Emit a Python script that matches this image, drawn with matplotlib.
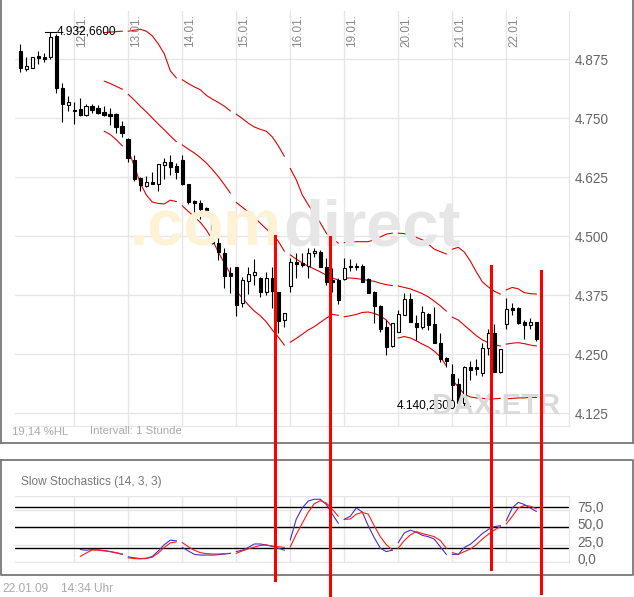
import numpy as np
import matplotlib
matplotlib.use("Agg")
import matplotlib.pyplot as plt
from matplotlib.lines import Line2D
from matplotlib.transforms import ScaledTranslation, blended_transform_factory

W, H = 634, 597
plt.rcParams['font.family'] = ['Liberation Sans', 'DejaVu Sans']

# hourly candles, DAX (ETR), 09.01. - 22.01.2009
day_labels = ["12.01.", "13.01.", "14.01.", "15.01.", "16.01.", "19.01.", "20.01.", "21.01.", "22.01."]
day_starts = [0, 9, 18, 27, 36, 45, 54, 63, 72, 81]

opens = [4892, 4854, 4857, 4881, 4879, 4879, 4924, 4813, 4777, 4764,
         4769, 4756, 4775, 4771, 4763, 4759, 4758, 4734, 4706, 4661,
         4623, 4607, 4615, 4611, 4651, 4656, 4649, 4661, 4610, 4574,
         4570, 4559, 4547, 4485, 4465, 4422, 4434, 4359, 4405, 4418,
         4412, 4382, 4412, 4381, 4322, 4395, 4446, 4442, 4437, 4464,
         4467, 4435, 4407, 4407, 4408, 4437, 4437, 4437, 4408, 4382,
         4352, 4307, 4267, 4297, 4333, 4367, 4316, 4307, 4334, 4314,
         4274, 4241, 4208, 4186, 4146, 4222, 4222, 4210, 4262, 4294,
         4212, 4313, 4347, 4347, 4318, 4311, 4317]
closes = [4857, 4860, 4879, 4878, 4876, 4921, 4813, 4779, 4783, 4768,
          4756, 4775, 4768, 4761, 4756, 4755, 4732, 4719, 4665, 4620,
          4608, 4614, 4611, 4652, 4657, 4647, 4636, 4610, 4572, 4569,
          4557, 4548, 4485, 4467, 4415, 4416, 4354, 4407, 4419, 4423,
          4382, 4412, 4383, 4321, 4336, 4446, 4441, 4439, 4463, 4469,
          4435, 4403, 4403, 4364, 4433, 4434, 4434, 4403, 4380, 4352,
          4304, 4265, 4315, 4335, 4367, 4318, 4307, 4338, 4311, 4274,
          4239, 4236, 4184, 4146, 4222, 4216, 4218, 4262, 4294, 4212,
          4260, 4345, 4343, 4316, 4312, 4317, 4281]
highs = [4907, 4880, 4880, 4892, 4887, 4932.66, 4929, 4824, 4797, 4783,
         4792, 4779, 4780, 4777, 4775, 4771, 4760, 4744, 4707, 4672,
         4626, 4627, 4635, 4653, 4665, 4672, 4654, 4672, 4611, 4576,
         4576, 4562, 4549, 4495, 4474, 4435, 4435, 4414, 4434, 4451,
         4413, 4424, 4435, 4382, 4337, 4453, 4465, 4465, 4474, 4474,
         4470, 4453, 4432, 4410, 4453, 4451, 4442, 4441, 4410, 4383,
         4353, 4323, 4316, 4343, 4380, 4379, 4333, 4352, 4336, 4349,
         4294, 4244, 4229, 4199, 4225, 4236, 4239, 4273, 4302, 4314,
         4261, 4368, 4359, 4350, 4323, 4326, 4318]
lows = [4848, 4850, 4856, 4864, 4868, 4876, 4802, 4742, 4765, 4737,
        4755, 4754, 4760, 4758, 4754, 4735, 4718, 4709, 4657, 4617,
        4596, 4604, 4610, 4596, 4621, 4630, 4621, 4609, 4567, 4545,
        4536, 4547, 4484, 4449, 4389, 4379, 4331, 4350, 4377, 4396,
        4370, 4375, 4347, 4294, 4308, 4382, 4412, 4434, 4412, 4455,
        4434, 4396, 4382, 4356, 4406, 4426, 4428, 4402, 4379, 4316,
        4297, 4248, 4265, 4296, 4332, 4317, 4280, 4304, 4301, 4273,
        4234, 4222, 4153, 4142, 4140.26, 4195, 4206, 4203, 4248, 4211,
        4210, 4304, 4333, 4314, 4281, 4302, 4278]

# Bollinger bands, from candle 14 on
band_start = 14
bb_upper = [4931, 4932, 4933, 4934,
            4934, 4936, 4938, 4934, 4924, 4907, 4886, 4850, 4835,
            4831, 4823, 4816, 4810, 4798, 4790, 4783, 4775, 4765,
            4758, 4749, 4739, 4731, 4726, 4722, 4710, 4691, 4669,
            4643, 4619, 4587, 4566, 4547, 4528, 4506, 4494, 4485,
            4486, 4487, 4488, 4488, 4488, 4492, 4498, 4504, 4506,
            4506, 4505, 4502, 4497, 4492, 4483, 4472, 4467, 4462,
            4472, 4476, 4466, 4447, 4424, 4403, 4392, 4383, 4377,
            4386, 4391, 4388, 4380, 4378, 4377]
bb_mid = [4828, 4823, 4817, 4811,
          4800, 4788, 4775, 4763, 4750, 4737, 4725, 4712, 4700,
          4693, 4684, 4676, 4666, 4655, 4641, 4626, 4609, 4591,
          4571, 4561, 4551, 4540, 4527, 4515, 4504, 4489, 4468,
          4460, 4451, 4443, 4436, 4430, 4424, 4417, 4411, 4407,
          4411, 4411, 4410, 4408, 4406, 4404, 4400, 4397, 4395,
          4394, 4391, 4388, 4383, 4378, 4371, 4362, 4352, 4341,
          4328, 4322, 4311, 4300, 4289, 4280, 4274, 4270, 4267,
          4271, 4273, 4274, 4272, 4269, 4267]
bb_lower = [4722, 4715, 4704, 4691,
            4682, 4648, 4612, 4587, 4572, 4569, 4568, 4576, 4573,
            4564, 4552, 4541, 4529, 4513, 4492, 4466, 4443, 4420,
            4383, 4369, 4354, 4341, 4331, 4318, 4301, 4286, 4269,
            4275, 4283, 4292, 4301, 4308, 4317, 4326, 4334, 4332,
            4329, 4331, 4334, 4338, 4339, 4336, 4331, 4322, 4307,
            4284, 4287, 4284, 4278, 4271, 4265, 4256, 4244, 4225,
            4195, 4180, 4165, 4159, 4157, 4156, 4155, 4155, 4156,
            4155, 4156, 4157, 4157, 4158, 4158]

# slow stochastics (14, 3, 3), from candle 10 on
stoch_start = 10
stoch_k = [18, 17, 18, 17.5, 16.5, 15, 13, 11,
           7.5, 6, 5, 5.5, 8, 16, 25, 31.5, 30.5,
           21, 16, 11, 10, 10, 10, 10.5, 11.5, 12.5,
           15, 17, 21, 26, 26, 24.5, 22.5, 20, 17,
           32, 62, 78, 88, 90.5, 90.5, 83, 69, 56,
           61.5, 66, 78, 72, 52, 35, 20, 15, 17,
           28, 42, 46, 43, 38.5, 36.5, 33, 22, 11,
           11, 11, 21, 25.5, 33, 41, 47, 51, 52.5,
           60, 78, 86, 83, 78, 73]
stoch_d = [8, 13, 17.5, 17, 16, 15, 13.5, 11.5,
           6, 5, 4.5, 5, 7, 13, 21, 27.5, 29,
           28, 22, 17, 13.5, 12, 11.5, 11.5, 12, 12.5,
           12.5, 16, 19, 21.5, 24, 24.5, 23, 22, 21,
           22, 40, 56, 72, 84, 88.5, 85, 76, 66,
           61.5, 62, 69, 71.5, 69, 52, 36.5, 25, 17.5,
           20, 31, 39, 44, 41, 39, 36.5, 31, 20,
           13.5, 11, 15, 18.5, 25, 33, 40, 46, 51,
           55, 66, 78, 81.5, 80.5, 77]

price_ticks = [4125, 4250, 4375, 4500, 4625, 4750, 4875]
stoch_ticks = [0, 25, 50, 75]
stoch_levels = [20, 50, 80]

# hand drawn red marks (candle position, top price, bottom pixel)
mark_x = [42.45, 51.6, 78.4, 86.7]
mark_top = [4500, 4498, 4436, 4426]
mark_bottom = [580, 597, 569, 593]


def px(x, y):
    return (x / W, 1 - y / H)


def de_num(v, dec):
    s = f"{v:,.{dec}f}"
    return s.replace(",", "X").replace(".", ",").replace("X", ".")


def main():
    n = len(opens)
    idx = np.arange(n)
    o = np.array(opens, float); c = np.array(closes, float)
    hi = np.array(highs, float); lo = np.array(lows, float)

    fig = plt.figure(figsize=(W / 100, H / 100), dpi=100)
    fig.patch.set_facecolor("white")

    grid_c = "#e6e6e6"
    xl = ((15 - 20.3) / 6, (569 - 20.3) / 6)

    # ---- price panel
    ax = fig.add_axes([15 / W, 1 - 426 / H, 554 / W, 415 / H])
    ax.set_xlim(*xl)
    ax.set_ylim(4097.5, 4976.7)
    for s in ["top", "left"]:
        ax.spines[s].set_visible(False)
    for s in ["right", "bottom"]:
        ax.spines[s].set_color(grid_c)
    ax.set_xticks([])
    ax.yaxis.tick_right()
    ax.set_yticks(price_ticks)
    ax.set_yticklabels([de_num(v, 0) for v in price_ticks])
    ax.tick_params(axis="y", length=0, pad=4, labelsize=9.8, labelcolor="#666666")
    for t in price_ticks:
        ax.axhline(t, color=grid_c, lw=1, zorder=0)
    for d in day_starts[1:]:
        ax.axvline(d, color=grid_c, lw=1, zorder=0)

    tr = blended_transform_factory(ax.transData, ax.transAxes)
    for d, lab in zip(day_starts[1:], day_labels):
        ax.text(d + 0.3, 0.992, lab, rotation=90, ha="left", va="top",
                transform=tr, color="#888888", fontsize=8.5)

    # watermarks
    fig.text(*px(130, 245), ".com", fontsize=47, fontweight="bold",
             color="#fdf2d6", ha="left", va="baseline", zorder=0)
    fig.text(*px(283, 245), "direct", fontsize=47, fontweight="bold",
             color="#e6e6e6", ha="left", va="baseline", zorder=0)
    fig.text(*px(432, 414), "DAX.ETR", fontsize=21, fontweight="bold",
             color="#dadada", ha="left", va="baseline", zorder=0)

    # bollinger bands, one piece per day
    for k, d in enumerate(day_starts):
        e = day_starts[k + 1] if k + 1 < len(day_starts) else n
        a = max(d, band_start)
        if a >= e:
            continue
        xs = idx[a:e]
        for band in (bb_upper, bb_mid, bb_lower):
            ax.plot(xs, band[a - band_start:e - band_start], color="#e00000", lw=0.8, zorder=2)

    # candles
    up = c >= o
    ax.vlines(idx, lo, hi, color="black", lw=0.8, zorder=3)
    body = np.maximum(np.abs(c - o), 1.5)
    ax.bar(idx, body, bottom=np.minimum(o, c), width=0.6,
           color=np.where(up, "white", "black"), edgecolor="black", lw=0.8, zorder=4)

    # high / low marks
    ih = int(np.argmax(hi)); il = int(np.argmin(lo))
    ax.plot([ih - 0.9, ih + 0.9], [hi[ih], hi[ih]], color="black", lw=0.8, zorder=5)
    ax.text(ih + 1.05, hi[ih], de_num(hi[ih], 4), ha="left", va="center",
            fontsize=8.6, color="black", zorder=5)
    ax.plot([il - 1.2, il + 0.95], [lo[il], lo[il]], color="black", lw=0.8, zorder=5)
    ax.text(il - 1.4, lo[il], de_num(lo[il], 4), ha="right", va="center",
            fontsize=8.6, color="black", zorder=5)

    fig.text(*px(12, 431), "19,14 %HL", fontsize=8.2, color="#aaaaaa", va="center")
    fig.text(*px(90, 431), "Intervall: 1 Stunde", fontsize=8.2, color="#aaaaaa", va="center")

    # ---- stochastics panel
    ax2 = fig.add_axes([15 / W, 1 - 563 / H, 554 / W, 67 / H])
    ax2.set_xlim(*xl)
    ax2.set_ylim(-1.44, 95.2)
    ax2.set_facecolor("none")
    for s in ["top", "left", "bottom"]:
        ax2.spines[s].set_visible(False)
    ax2.spines["right"].set_color(grid_c)
    ax2.set_xticks([])
    ax2.yaxis.tick_right()
    ax2.set_yticks(stoch_ticks)
    ax2.set_yticklabels([de_num(v, 1) for v in stoch_ticks])
    ax2.tick_params(axis="y", length=0, pad=6, labelsize=9.8, labelcolor="#666666")
    off = ScaledTranslation(0, 3.5 / 100, fig.dpi_scale_trans)
    for lab in ax2.get_yticklabels():
        lab.set_transform(lab.get_transform() + off)
    for t in [0, 25, 50, 75, 95]:
        ax2.axhline(t, color=grid_c, lw=1, zorder=0)
    for d in day_starts[1:]:
        ax2.axvline(d, color=grid_c, lw=1, zorder=0)
    for t in stoch_levels:
        ax2.axhline(t, color="black", lw=1, zorder=1)

    for k, d in enumerate(day_starts):
        e = day_starts[k + 1] if k + 1 < len(day_starts) else n
        a = max(d, stoch_start)
        if a >= e:
            continue
        xs = idx[a:e]
        ax2.plot(xs, stoch_k[a - stoch_start:e - stoch_start], color="#4a2fc4", lw=0.8, zorder=3)
        ax2.plot(xs, stoch_d[a - stoch_start:e - stoch_start], color="#ff1a1a", lw=0.8, zorder=3)

    fig.text(*px(21, 482), "Slow Stochastics (14, 3, 3)", fontsize=8.6, color="#777777", va="center")
    fig.text(*px(2, 589), "22.01.09", fontsize=8.6, color="#aaaaaa", va="center")
    fig.text(*px(61, 589), "14:34 Uhr", fontsize=8.6, color="#aaaaaa", va="center")

    # panel frames
    fc = "#777777"
    for xs_, ys_ in [([0.75, 0.75], [0, 443]), ([0, 633], [443, 443]), ([633, 633], [0, 443]),
                     ([0.75, 633, 633, 0.75, 0.75], [460, 460, 575, 575, 460])]:
        fx = [x / W for x in xs_]
        fy = [1 - y / H for y in ys_]
        fig.add_artist(Line2D(fx, fy, color=fc, lw=1.3, transform=fig.transFigure))

    # red marks
    inv = fig.transFigure.inverted()
    for mx, mt, mb in zip(mark_x, mark_top, mark_bottom):
        x_d, y_d = ax.transData.transform((mx, mt))
        p1 = inv.transform((x_d, y_d))
        p2 = inv.transform((x_d, H - mb))
        fig.add_artist(Line2D([p1[0], p2[0]], [p1[1], p2[1]], color="#ff0000", lw=2.2,
                              transform=fig.transFigure, zorder=10))

    fig.savefig("out.png", dpi=100, facecolor="white")


if __name__ == "__main__":
    main()
